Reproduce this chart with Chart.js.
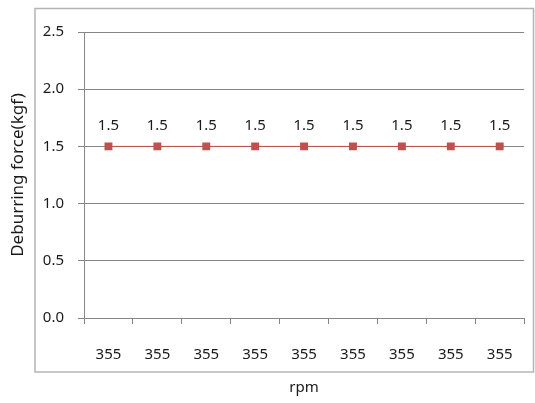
<!DOCTYPE html>
<html>
<head>
<meta charset="utf-8">
<script src="https://cdn.jsdelivr.net/npm/chart.js@4/dist/chart.umd.min.js"></script>
<style>
html,body{margin:0;padding:0;background:#fff;}
#wrap{position:relative;width:535px;height:403px;}
</style>
</head>
<body>
<div id="wrap"><canvas id="c" width="535" height="403"></canvas></div>
<script>
const categories = ["355","355","355","355","355","355","355","355","355"];
const forceValues = [1.5,1.5,1.5,1.5,1.5,1.5,1.5,1.5,1.5];
const yTickValues = [0.0,0.5,1.0,1.5,2.0,2.5];
const yTitle = "Deburring force(kgf)";
const xTitle = "rpm";

const FONT = "'Noto Sans', 'DejaVu Sans', sans-serif";
const RED = "#C0504D";
const GRID = "#868686";

const frame = {
  id: 'frame',
  beforeDraw(chart) {
    const ctx = chart.ctx;
    ctx.save();
    ctx.fillStyle = '#fff';
    ctx.fillRect(0, 0, chart.width, chart.height);
    ctx.strokeStyle = '#b4b4b4';
    ctx.lineWidth = 1.5;
    ctx.strokeRect(35, 8.5, 498.5, 363.5);
    ctx.restore();
  }
};

const dataLabels = {
  id: 'dataLabels',
  afterDatasetsDraw(chart) {
    const ctx = chart.ctx;
    ctx.save();
    ctx.font = "15px " + FONT;
    ctx.fillStyle = '#1a1a1a';
    ctx.textAlign = 'center';
    ctx.textBaseline = 'middle';
    chart.getDatasetMeta(0).data.forEach((pt, i) => {
      ctx.fillText(forceValues[i].toFixed(1), pt.x, pt.y - 21);
    });
    ctx.restore();
  }
};

new Chart(document.getElementById('c'), {
  type: 'line',
  data: {
    labels: categories,
    datasets: [{
      data: forceValues,
      borderColor: RED,
      borderWidth: 1,
      backgroundColor: RED,
      pointStyle: 'rect',
      pointRadius: 5.6,
      pointBorderWidth: 0,
      pointBackgroundColor: RED,
      fill: false,
      tension: 0
    }]
  },
  options: {
    responsive: false,
    animation: false,
    devicePixelRatio: 1,
    layout: { padding: { top: 32, right: 8, left: 0, bottom: 0 } },
    plugins: { legend: { display: false }, tooltip: { enabled: false } },
    scales: {
      x: {
        offset: true,
        grid: { offset: true, drawOnChartArea: false, drawTicks: true, tickLength: 6, color: GRID },
        border: { color: GRID },
        ticks: { font: { family: FONT, size: 15 }, color: '#1a1a1a', padding: 22, maxRotation: 0, autoSkip: false },
        title: { display: true, text: xTitle, font: { family: FONT, size: 15 }, color: '#1a1a1a', padding: { top: 0, bottom: 6 } },
        afterFit(s) { s.height = 85; }
      },
      y: {
        min: 0, max: 2.5,
        afterBuildTicks(s) { s.ticks = yTickValues.map(v => ({ value: v })); },
        grid: { color: GRID, tickLength: 6, drawTicks: true },
        border: { color: GRID },
        ticks: { font: { family: FONT, size: 15 }, color: '#1a1a1a', padding: 14, callback: v => Number(v).toFixed(1) },
        title: { display: true, text: yTitle, font: { family: FONT, size: 17 }, color: '#1a1a1a', padding: { top: 8, bottom: 0 } },
        afterFit(s) { s.width = 84; }
      }
    }
  },
  plugins: [frame, dataLabels]
});
</script>
</body>
</html>
